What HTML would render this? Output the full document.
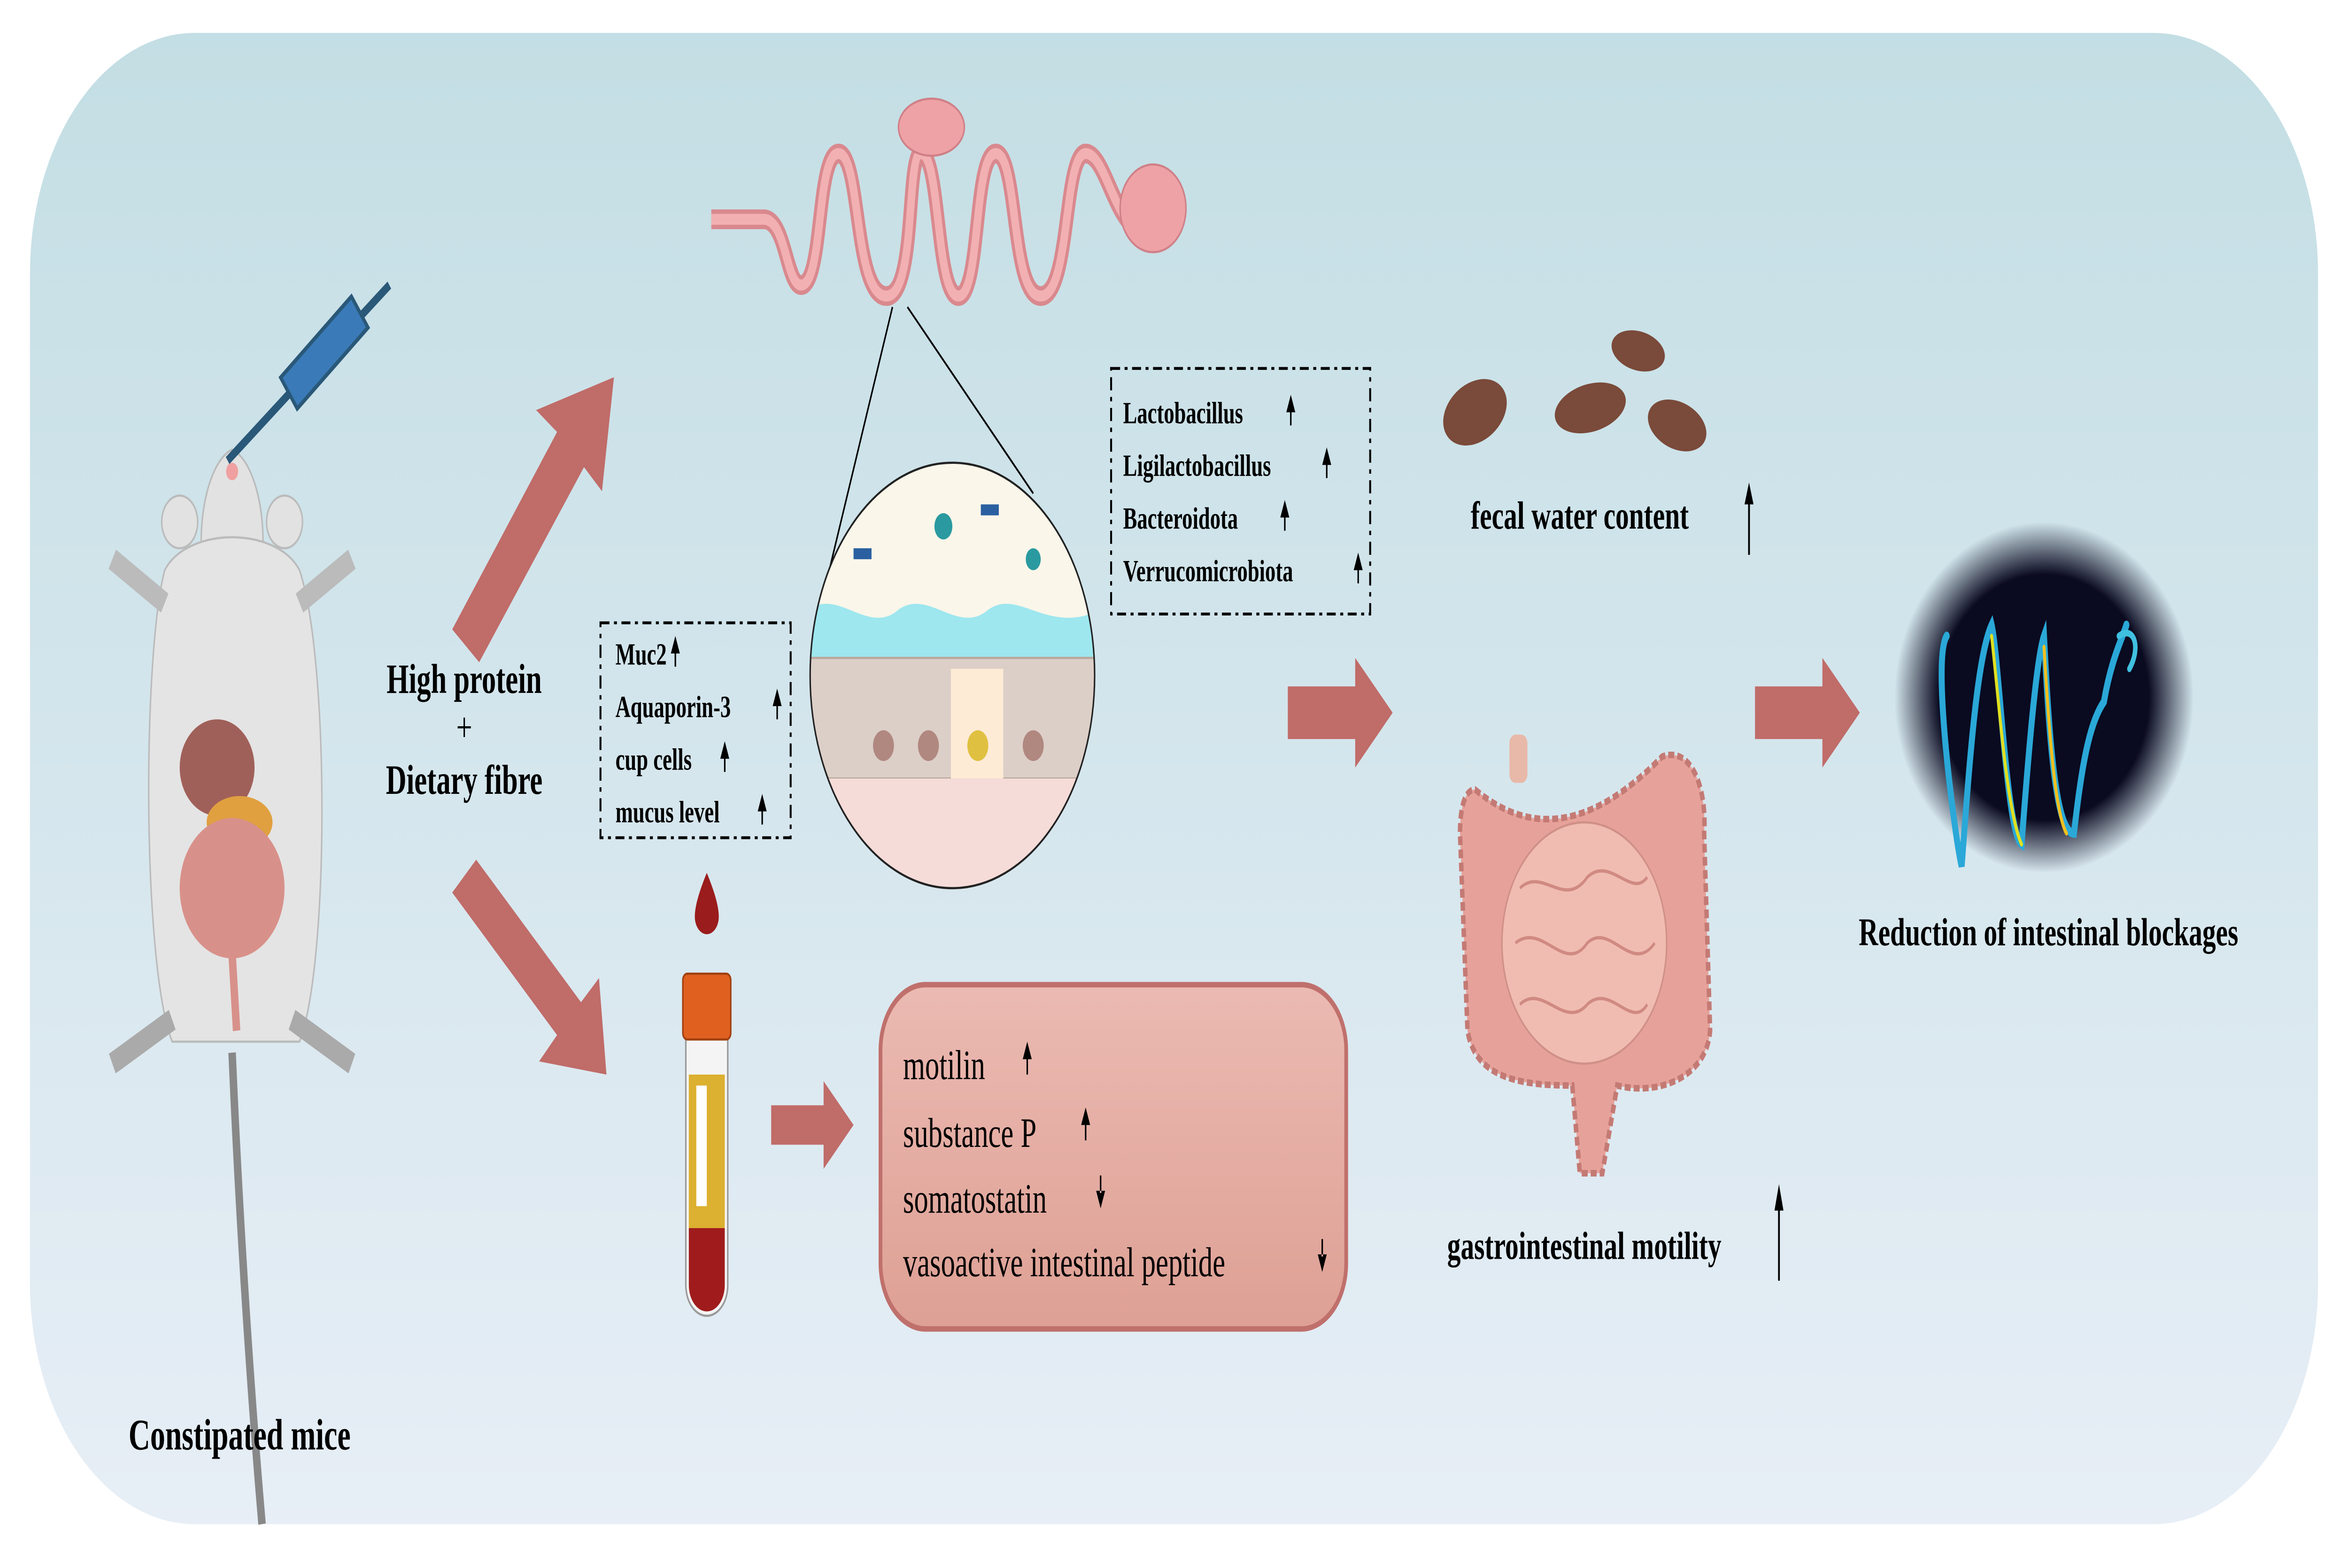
<!DOCTYPE html>
<html><head><meta charset="utf-8"><style>
html,body{margin:0;padding:0;background:#fff;width:100%;height:100%;overflow:hidden;}
svg{display:block;width:100vw;height:100vh;}
text{font-family:"Liberation Serif",serif;fill:#000;}
.b{font-weight:bold;}
</style></head><body>
<svg viewBox="0 0 1568 715" preserveAspectRatio="none" xmlns="http://www.w3.org/2000/svg">
<defs>
<linearGradient id="bg" x1="0" y1="0" x2="0" y2="1"><stop offset="0" stop-color="#c3dee4"/><stop offset="1" stop-color="#e7eef6"/></linearGradient>
<linearGradient id="pk" x1="0" y1="0" x2="0" y2="1"><stop offset="0" stop-color="#ebbab2"/><stop offset="1" stop-color="#dea094"/></linearGradient>
<radialGradient id="dk" cx="0.5" cy="0.5" r="0.5"><stop offset="0.7" stop-color="#0a0a20"/><stop offset="1" stop-color="#0a0a20" stop-opacity="0"/></radialGradient>
</defs>
<rect width="1568" height="715" fill="#fff"/>
<rect x="20" y="15" width="1528" height="680" rx="110" fill="url(#bg)"/>

<!-- mouse -->
<path d="M155,480 C160,560 168,640 175,695" stroke="#888" stroke-width="5" fill="none"/>
<circle cx="120" cy="238" r="12" fill="#e2e2e2" stroke="#bbb"/>
<circle cx="190" cy="238" r="12" fill="#e2e2e2" stroke="#bbb"/>
<path d="M155,205 C140,210 132,235 135,255 C140,275 170,275 175,255 C178,235 170,210 155,205Z" fill="#e2e2e2" stroke="#bbb"/>
<path d="M110,260 C95,300 95,440 115,475 L200,475 C220,440 220,300 200,260 C185,240 125,240 110,260Z" fill="#e4e4e4" stroke="#bbb"/>
<path d="M110,275 L75,255 M200,275 L235,255" stroke="#bbb" stroke-width="10"/>
<path d="M115,465 L75,485 M195,465 L235,485" stroke="#aaa" stroke-width="10"/>
<ellipse cx="145" cy="350" rx="25" ry="22" fill="#a0605a"/>
<ellipse cx="160" cy="375" rx="22" ry="12" fill="#e0a040"/>
<ellipse cx="155" cy="405" rx="35" ry="32" fill="#d8918a"/>
<path d="M155,435 L158,470" stroke="#d8918a" stroke-width="5"/>
<circle cx="155" cy="215" r="4" fill="#f0a0a0"/>
<path d="M152,210 L260,130" stroke="#2a5878" stroke-width="4"/>
<rect x="-28" y="-9" width="60" height="18" fill="#3a7ab8" stroke="#2a5878" stroke-width="2" transform="translate(215,162) rotate(-38)"/>

<text class="b" x="310" y="316" font-size="19" text-anchor="middle">High protein</text>
<text x="310" y="338" font-size="19" text-anchor="middle">+</text>
<text class="b" x="310" y="362" font-size="19" text-anchor="middle">Dietary fibre</text>
<text class="b" x="160" y="661" font-size="20" text-anchor="middle">Constipated mice</text>

<!-- big arrows -->
<g fill="#c06c69">
<path d="M302,287 L372,197 L358,187 L410,172 L402,224 L390,213 L320,302Z"/>
<path d="M302,407 L372,472 L360,484 L405,490 L400,446 L388,457 L318,392Z"/>
<path d="M860,313 L905,313 L905,300 L930,325 L905,350 L905,337 L860,337Z"/>
<path d="M1172,313 L1217,313 L1217,300 L1242,325 L1217,350 L1217,337 L1172,337Z"/>
<path d="M515,504 L550,504 L550,493 L570,513 L550,533 L550,522 L515,522Z"/>
</g>

<!-- intestine squiggle -->
<path d="M475,100 L510,100 C525,100 525,130 535,130 C550,130 545,70 560,70 C575,70 570,135 592,135 C612,135 605,70 615,70 C628,70 625,135 640,135 C655,135 650,70 665,70 C680,70 675,135 695,135 C715,135 710,70 725,70 C740,70 745,110 770,105" stroke="#d9898e" stroke-width="9" fill="none" stroke-linejoin="round"/>
<path d="M475,100 L510,100 C525,100 525,130 535,130 C550,130 545,70 560,70 C575,70 570,135 592,135 C612,135 605,70 615,70 C628,70 625,135 640,135 C655,135 650,70 665,70 C680,70 675,135 695,135 C715,135 710,70 725,70 C740,70 745,110 770,105" stroke="#f2b0b2" stroke-width="5" fill="none"/>
<ellipse cx="622" cy="58" rx="22" ry="13" fill="#eea2a6" stroke="#d08088"/>
<ellipse cx="770" cy="95" rx="22" ry="20" fill="#eea2a6" stroke="#d08088"/>
<line x1="596" y1="140" x2="545" y2="285" stroke="#000" stroke-width="1"/>
<line x1="606" y1="140" x2="690" y2="225" stroke="#000" stroke-width="1"/>

<!-- circle -->
<clipPath id="cc"><ellipse cx="636" cy="308" rx="95" ry="97"/></clipPath>
<g clip-path="url(#cc)">
<rect x="540" y="210" width="195" height="200" fill="#fbf6ea"/>
<path d="M540,278 C560,268 580,290 600,278 C620,268 640,290 660,278 C680,268 700,290 735,278 L735,310 L540,310Z" fill="#9ee7ef"/>
<rect x="540" y="300" width="195" height="55" fill="#dccfc8" stroke="#b8a89e"/>
<rect x="635" y="305" width="35" height="50" fill="#fdebd6"/>
<circle cx="590" cy="340" r="7" fill="#b08880"/><circle cx="620" cy="340" r="7" fill="#b08880"/><circle cx="653" cy="340" r="7" fill="#e0c040"/><circle cx="690" cy="340" r="7" fill="#b08880"/>
<rect x="540" y="355" width="195" height="60" fill="#f6dcd8"/>
<circle cx="630" cy="240" r="6" fill="#2a9aa0"/><circle cx="690" cy="255" r="5" fill="#2a9aa0"/>
<rect x="570" y="250" width="12" height="5" fill="#2a60a0"/><rect x="655" y="230" width="12" height="5" fill="#2a60a0"/>
</g>
<ellipse cx="636" cy="308" rx="95" ry="97" fill="none" stroke="#222" stroke-width="1"/>

<!-- dashed boxes -->
<rect x="401" y="284" width="127" height="98" fill="none" stroke="#000" stroke-width="1.3" stroke-dasharray="6,3,2,3"/>
<text class="b" x="411" y="303" font-size="14">Muc2</text>
<text class="b" x="411" y="327" font-size="14">Aquaporin-3</text>
<text class="b" x="411" y="351" font-size="14">cup cells</text>
<text class="b" x="411" y="375" font-size="14">mucus level</text>
<g fill="#000">
<path d="M448,298 L451,290 L454,298Z M450.5,297 h1 v7 h-1Z"/>
<path d="M516,322 L519,314 L522,322Z M518.5,321 h1 v7 h-1Z"/>
<path d="M481,346 L484,338 L487,346Z M483.5,345 h1 v7 h-1Z"/>
<path d="M506,370 L509,362 L512,370Z M508.5,369 h1 v7 h-1Z"/>
</g>
<rect x="742" y="168" width="173" height="112" fill="none" stroke="#000" stroke-width="1.3" stroke-dasharray="6,3,2,3"/>
<text class="b" x="750" y="193" font-size="14">Lactobacillus</text>
<text class="b" x="750" y="217" font-size="14">Ligilactobacillus</text>
<text class="b" x="750" y="241" font-size="14">Bacteroidota</text>
<text class="b" x="750" y="265" font-size="14">Verrucomicrobiota</text>
<g fill="#000">
<path d="M859,188 L862,180 L865,188Z M861.5,187 h1 v7 h-1Z"/>
<path d="M883,212 L886,204 L889,212Z M885.5,211 h1 v7 h-1Z"/>
<path d="M855,236 L858,228 L861,236Z M857.5,235 h1 v7 h-1Z"/>
<path d="M904,260 L907,252 L910,260Z M906.5,259 h1 v7 h-1Z"/>
</g>

<!-- blood tube -->
<path d="M472,398 C466,408 464,414 464,418 A8,8 0 0 0 480,418 C480,414 478,408 472,398Z" fill="#9a1c1c"/>
<rect x="458" y="455" width="28" height="145" rx="14" fill="#f4f4f4" stroke="#999"/>
<rect x="460" y="490" width="24" height="70" fill="#dcb030"/>
<rect x="465" y="495" width="7" height="55" fill="#fff"/>
<path d="M460,560 L484,560 L484,586 A12,12 0 0 1 460,586Z" fill="#a01c1c"/>
<rect x="456" y="444" width="32" height="30" rx="3" fill="#e06020" stroke="#a04010"/>

<!-- pink box -->
<rect x="588" y="449" width="311" height="157" rx="30" fill="url(#pk)" stroke="#c0706c" stroke-width="2.5"/>
<text x="603" y="492" font-size="19">motilin</text>
<text x="603" y="523" font-size="19">substance P</text>
<text x="603" y="553" font-size="19">somatostatin</text>
<text x="603" y="582" font-size="19">vasoactive intestinal peptide</text>
<g fill="#000">
<path d="M683,483 L686,475 L689,483Z M685.5,482 h1 v8 h-1Z"/>
<path d="M722,513 L725,505 L728,513Z M724.5,512 h1 v8 h-1Z"/>
<path d="M732,543 L735,551 L738,543Z M734.5,536 h1 v8 h-1Z"/>
<path d="M880,572 L883,580 L886,572Z M882.5,565 h1 v8 h-1Z"/>
</g>

<!-- feces -->
<g fill="#7a4a3a">
<ellipse cx="985" cy="188" rx="22" ry="14" transform="rotate(-20 985 188)"/>
<ellipse cx="1094" cy="160" rx="18" ry="9" transform="rotate(10 1094 160)"/>
<ellipse cx="1062" cy="186" rx="24" ry="11" transform="rotate(-10 1062 186)"/>
<ellipse cx="1120" cy="194" rx="20" ry="11" transform="rotate(15 1120 194)"/>
</g>
<text class="b" x="1055" y="241" font-size="18" text-anchor="middle">fecal water content</text>
<path d="M1165,230 L1168,220 L1171,230Z M1167.4,229 h1.2 v24 h-1.2Z" fill="#000"/>

<!-- colon -->
<path d="M985,360 C1020,380 1060,380 1110,345 C1130,340 1140,360 1138,380 L1142,470 C1140,490 1110,500 1080,495 L1070,535 L1055,535 L1050,495 C1010,495 985,490 980,470 L975,380 C975,365 980,360 985,360Z" fill="#e6a29a" stroke="#c47a74" stroke-width="3" stroke-dasharray="4,2"/>
<ellipse cx="1058" cy="430" rx="55" ry="55" fill="#f0bcb2" stroke="#d09088"/>
<g fill="none" stroke="#d08a82" stroke-width="1.5">
<path d="M1015,405 C1030,395 1045,415 1060,400 C1075,390 1090,410 1100,400"/>
<path d="M1012,430 C1030,420 1045,445 1060,430 C1075,420 1090,445 1105,430"/>
<path d="M1015,458 C1030,448 1045,470 1060,458 C1075,448 1090,470 1100,458"/>
</g>
<rect x="1008" y="335" width="12" height="22" fill="#e8b8a8" rx="4"/>
<text class="b" x="1058" y="574" font-size="18" text-anchor="middle">gastrointestinal motility</text>
<path d="M1185,552 L1188,540 L1191,552Z M1187.4,550 h1.2 v34 h-1.2Z" fill="#000"/>

<!-- dark image -->
<ellipse cx="1365" cy="318" rx="100" ry="80" fill="url(#dk)"/>
<g fill="none" stroke-width="4" stroke-linecap="round">
<path d="M1300,290 C1290,300 1305,380 1310,395 C1315,350 1320,300 1330,285 C1335,300 1340,380 1350,385 C1355,340 1360,300 1365,290 C1368,330 1372,380 1385,380 C1390,350 1395,330 1405,320 C1410,300 1418,290 1420,285" stroke="#2aa8d8"/>
<path d="M1330,290 C1335,320 1340,370 1350,385" stroke="#e0e020" stroke-width="2"/>
<path d="M1365,295 C1368,330 1372,370 1380,380" stroke="#f0c020" stroke-width="2"/>
<path d="M1415,290 C1425,285 1430,295 1422,305" stroke="#40c0e0" stroke-width="3"/>
</g>
<text class="b" x="1368" y="431" font-size="18" text-anchor="middle">Reduction of intestinal blockages</text>
</svg>
</body></html>
